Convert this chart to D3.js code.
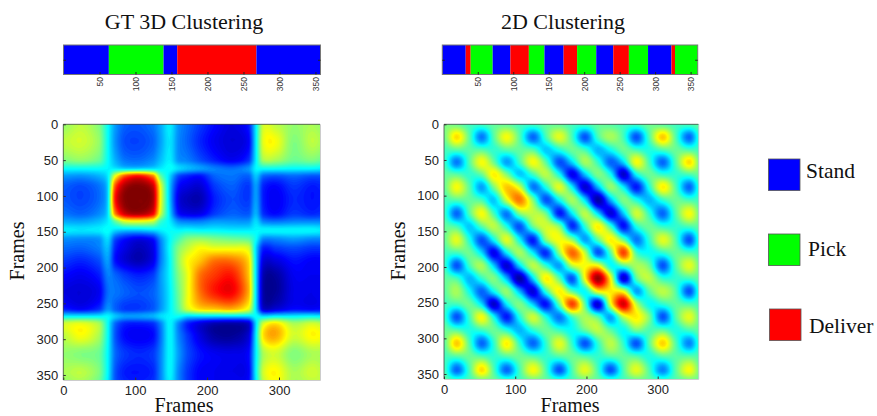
<!DOCTYPE html>
<html><head><meta charset="utf-8">
<style>html,body{margin:0;padding:0;background:#fff}svg{display:block}</style>
<script src="https://cdn.jsdelivr.net/npm/d3@7/dist/d3.min.js"></script>
</head><body><div id="chart"></div>
<script>
// ---- data ----
const classNames = ["Stand","Pick","Deliver"];
const barTicks = [50,100,150,200,250,300,350];
const xTicks = [0,100,200,300];
const yTicks = [0,50,100,150,200,250,300,350];

// cluster strips: segment end frame + class index
const gtEnds = [63,139,158,268,357];
const gtClasses = [0,1,0,2,0];
const flatEnds = [33,40,71,96,122,144,171,190,217,241,263,290,323,328,360];
const flatClasses = [0,2,1,0,2,1,0,2,1,0,2,1,0,2,1];

// similarity matrices (lower triangle, symmetric), sampled at the listed frames
const gtFrames = [0,25,50,62,72,85,105,125,135,148,160,172,190,210,235,258,268,278,295,320,345,360];
const gtRows = [
[52],
[56,58],
[50,52,48],
[38,38,38,37],
[28,27,30,36,60],
[22,20,24,34,78,95],
[21,19,23,34,85,99,100],
[24,22,26,35,74,92,96,88],
[29,28,31,36,48,60,62,58,44],
[36,35,36,38,34,32,32,34,36,38],
[27,26,27,34,20,14,10,14,26,37,44],
[23,22,25,31,16,10,5,10,24,38,50,56],
[18,16,20,28,14,8,4,10,24,37,52,62,68],
[13,11,15,25,22,18,15,18,27,37,50,60,76,82],
[9,8,11,23,24,22,20,22,27,36,48,60,76,85,88],
[15,12,17,27,22,18,18,21,27,36,46,58,66,68,70,60],
[36,36,36,37,32,28,28,30,34,37,38,34,34,34,34,34,38],
[58,60,54,38,23,16,15,17,25,37,26,16,9,4,3,7,34,58],
[56,62,54,38,21,13,11,13,23,37,26,18,9,2,1,8,36,65,71],
[52,50,48,37,23,18,16,18,25,37,28,20,14,11,10,13,36,54,58,50],
[54,56,50,37,21,15,14,16,25,37,26,18,12,11,10,12,37,58,63,54,58],
[52,54,48,36,21,16,15,17,25,36,26,18,12,11,11,13,36,56,62,54,56,56]
];
const flatFrames = [0,18,36,53,70,88,106,125,143,162,180,198,216,234,252,270,288,307,325,344,360];
const flatRows = [
[50],
[48,66],
[44,46,46],
[44,24,46,62],
[47,46,42,48,64],
[47,62,46,28,50,68],
[44,46,47,44,32,58,76],
[44,22,46,62,44,24,50,56],
[47,44,32,46,56,40,20,48,58],
[47,60,40,20,38,60,38,14,50,62],
[44,44,48,34,10,36,54,36,16,52,78],
[44,20,44,54,32,7,34,56,42,28,56,62],
[47,44,30,42,50,30,2,34,64,46,20,62,98],
[46,54,38,22,38,52,30,8,42,64,46,38,62,64],
[44,44,48,34,6,36,50,32,13,48,82,46,7,60,92],
[44,20,44,62,38,14,40,58,40,24,44,54,46,28,56,64],
[48,45,40,44,48,40,30,42,48,42,38,48,56,46,38,50,45],
[46,68,45,22,42,64,42,22,42,60,42,20,42,56,42,20,46,67],
[44,46,48,45,42,46,48,45,42,46,48,45,42,46,47,45,40,46,46],
[45,22,45,66,45,22,44,62,45,20,45,60,44,20,45,60,45,25,46,62],
[47,44,44,48,48,44,44,48,47,44,44,48,47,44,44,47,47,44,45,48,48]
];

// ---- layout ----
const W=877,H=416;
const classColor=d3.scaleOrdinal().domain([0,1,2]).range(["#0000ff","#00ff00","#ff0000"]);
const jet=d3.scaleLinear().domain([0,12.5,37.5,62.5,87.5,100])
  .range(["#00008f","#0000ff","#00ffff","#ffff00","#ff0000","#800000"]).clamp(true);
const svg=d3.select("#chart").append("svg").attr("width",W).attr("height",H);
const defs=svg.append("defs");

function drawStrip(ends,classes,x0,x1,domainEnd){
  const y0=45,y1=74.5;
  const x=d3.scaleLinear().domain([0,domainEnd]).range([x0,x1]);
  const y=d3.scaleLinear().domain([0,1]).range([y1,y0]);
  const g=svg.append("g");
  g.selectAll("rect.seg").data(ends).join("rect").attr("class","seg")
    .attr("x",(d,i)=>x(i?ends[i-1]:0)).attr("width",(d,i)=>x(d)-x(i?ends[i-1]:0))
    .attr("y",y0).attr("height",y1-y0).attr("fill",(d,i)=>classColor(classes[i]));
  g.append("rect").attr("x",x0).attr("y",y0).attr("width",x1-x0).attr("height",y1-y0)
    .attr("fill","none").attr("stroke","#777");
  const ax=g.append("g").attr("transform",`translate(0,${y1})`)
    .call(d3.axisBottom(x).tickValues(barTicks).tickSizeOuter(0).tickSizeInner(-2.5).tickPadding(4));
  ax.select(".domain").remove();
  ax.selectAll("line").attr("stroke","#222");
  ax.selectAll("text").attr("font-family","'Liberation Sans',Arial,sans-serif").attr("font-size",8.5)
    .attr("fill","#333").attr("text-anchor","end").attr("dy",0)
    .attr("transform",function(){return `translate(3,-1.5) rotate(-90 0 ${+d3.select(this).attr("y")})`;});
  const ay=g.append("g").attr("transform",`translate(${x0},0)`)
    .call(d3.axisLeft(y).tickValues([0.5]).tickSizeOuter(0).tickSizeInner(-2.5).tickFormat(""));
  ay.select(".domain").remove();
  ay.selectAll("line").attr("stroke","#222");
  const ar=g.append("g").attr("transform",`translate(${x1},0)`)
    .call(d3.axisRight(y).tickValues([0.5]).tickSizeOuter(0).tickSizeInner(-2.5).tickFormat(""));
  ar.select(".domain").remove();
  ar.selectAll("line").attr("stroke","#222");
}

function catmull(a,b,c,d,t){
  return 0.5*(2*b+(c-a)*t+(2*a-5*b+4*c-d)*t*t+(3*b-a-3*c+d)*t*t*t);
}
function upsample(rows,factor){
  const n=rows.length;
  const at=(r,c)=>{
    r=Math.max(0,Math.min(n-1,r));c=Math.max(0,Math.min(n-1,c));
    return r>=c?rows[r][c]:rows[c][r];
  };
  const m=(n-1)*factor+1, out=new Float64Array(m*m);
  for(let j=0;j<m;j++){
    const rj=Math.min(n-2,Math.floor(j/factor)),tj=j/factor-rj;
    for(let i=0;i<m;i++){
      const ci=Math.min(n-2,Math.floor(i/factor)),ti=i/factor-ci;
      const col=[-1,0,1,2].map(k=>catmull(at(rj+k,ci-1),at(rj+k,ci),at(rj+k,ci+1),at(rj+k,ci+2),ti));
      out[j*m+i]=catmull(col[0],col[1],col[2],col[3],tj);
    }
  }
  return {m,out};
}

function drawHeat(id,rows,frames,x0,x1,y0,y1,xLabelX,yLabelX){
  const factor=6;
  const {m,out}=upsample(rows,factor);
  const x=d3.scaleLinear().domain([0,357]).range([x0,x1]);
  const y=d3.scaleLinear().domain([0,357]).range([y0,y1]);
  const idx=d3.scaleLinear().domain(frames.map((f,i)=>i*factor)).range(frames);
  const path=d3.geoPath(d3.geoTransform({point(a,b){this.stream.point(x(idx(a-0.5)),y(idx(b-0.5)));}}));
  const thresholds=d3.range(-2,104,1);
  const cs=d3.contours().size([m,m]).thresholds(thresholds)(out);
  defs.append("clipPath").attr("id",id).append("rect").attr("x",x0).attr("y",y0).attr("width",x1-x0).attr("height",y1-y0);
  const g=svg.append("g");
  const plot=g.append("g").attr("clip-path",`url(#${id})`);
  plot.append("rect").attr("x",x0).attr("y",y0).attr("width",x1-x0).attr("height",y1-y0).attr("fill",jet(0));
  plot.selectAll("path").data(cs).join("path").attr("d",path).attr("fill",d=>jet(d.value+0.5));
  g.append("path").attr("d",`M${x1+0.5},${y0}V${y1+0.5}H${x0}`).attr("fill","none").attr("stroke","#ccc");
  g.append("path").attr("d",`M${x0},${y1}V${y0}H${x1}`).attr("fill","none").attr("stroke","#444").attr("stroke-width",0.8);
  const style=s=>{s.select(".domain").remove();
    s.selectAll("line").attr("stroke","#333");
    s.selectAll("text").attr("font-family","'Liberation Sans',Arial,sans-serif").attr("font-size",13).attr("fill","#222");};
  g.append("g").attr("transform",`translate(0,${y1})`)
    .call(d3.axisBottom(x).tickValues(xTicks).tickSizeOuter(0).tickSizeInner(-2.5).tickPadding(6)).call(style);
  g.append("g").attr("transform",`translate(${x0},0)`)
    .call(d3.axisLeft(y).tickValues(yTicks).tickSizeOuter(0).tickSizeInner(-2.5).tickPadding(5)).call(style);
  const serif="'Liberation Serif','Times New Roman',serif";
  g.append("text").attr("x",xLabelX).attr("y",411.5).attr("text-anchor","middle")
    .attr("font-family",serif).attr("font-size",20).attr("fill","#111").text("Frames");
  g.append("text").attr("transform",`translate(${yLabelX},251) rotate(-90)`).attr("text-anchor","middle")
    .attr("font-family",serif).attr("font-size",20).attr("fill","#111").text("Frames");
}

const serif="'Liberation Serif','Times New Roman',serif";
svg.append("text").attr("x",184).attr("y",29).attr("text-anchor","middle").attr("font-family",serif)
  .attr("font-size",22).attr("fill","#111").text("GT 3D Clustering");
svg.append("text").attr("x",563).attr("y",29).attr("text-anchor","middle").attr("font-family",serif)
  .attr("font-size",22).attr("fill","#111").text("2D Clustering");

drawStrip(gtEnds,gtClasses,63.5,320.5,357);
drawStrip(flatEnds,flatClasses,442.3,697.7,360);
drawHeat("clipA",gtRows,gtFrames,63.3,320,124.3,380,184,24);
drawHeat("clipB",flatRows,flatFrames,444,698.3,124.3,379,570,405);

const legendBox=[[768.5,159],[768.5,234],[769.5,309]];
const legendText=[[806,178],[808,256],[809,333]];
const lg=svg.append("g");
lg.selectAll("rect").data(classNames).join("rect")
  .attr("x",(d,i)=>legendBox[i][0]).attr("y",(d,i)=>legendBox[i][1]).attr("width",31.5).attr("height",31.5)
  .attr("fill",(d,i)=>classColor(i)).attr("stroke","#555").attr("stroke-width",0.8);
lg.selectAll("text").data(classNames).join("text")
  .attr("x",(d,i)=>legendText[i][0]).attr("y",(d,i)=>legendText[i][1])
  .attr("font-family",serif).attr("font-size",21.5).attr("fill","#111").text(d=>d);
</script></body></html>
